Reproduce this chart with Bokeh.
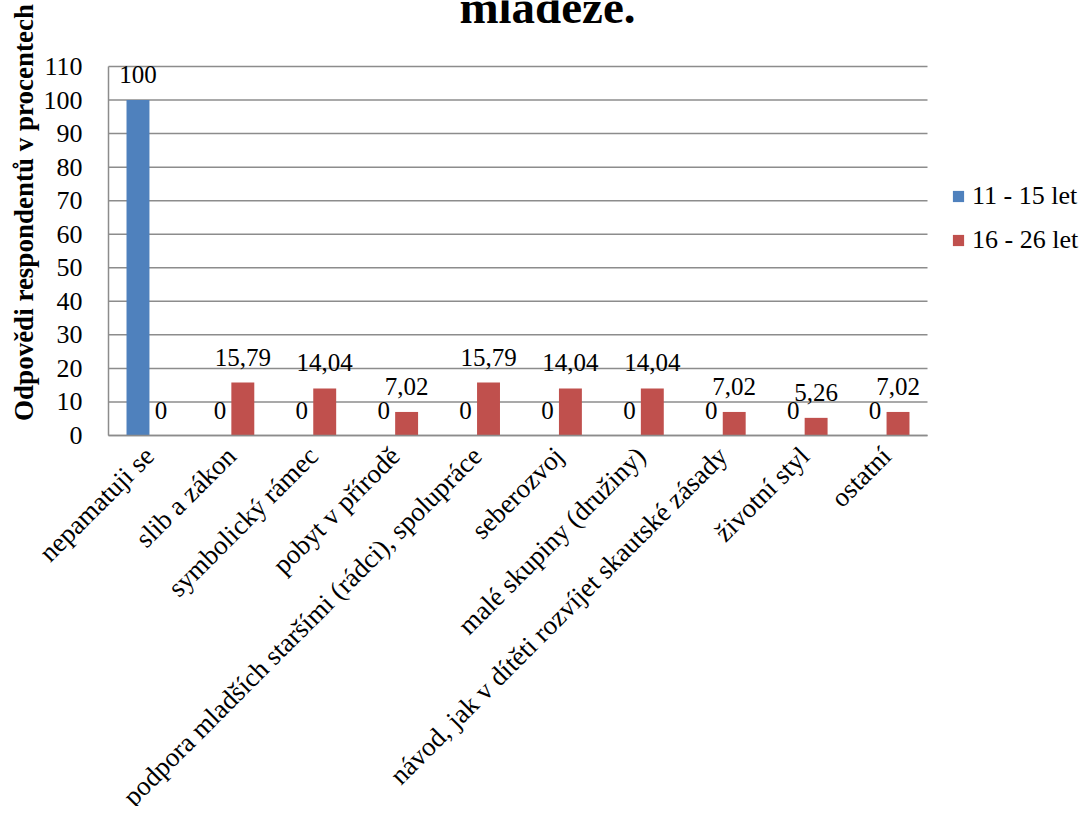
from math import pi
from bokeh.plotting import figure
from bokeh.models import (Range1d, ColumnDataSource, LabelSet, Label, FixedTicker)
from bokeh.embed import file_html
from bokeh.resources import INLINE

categories = [
    "nepamatuji se",
    "slib a zákon",
    "symbolický rámec",
    "pobyt v přírodě",
    "podpora mladších staršími (rádci), spolupráce",
    "seberozvoj",
    "malé skupiny (družiny)",
    "návod, jak v dítěti rozvíjet skautské zásady",
    "životní styl",
    "ostatní",
]
series_names = ["11 - 15 let", "16 - 26 let"]
values_11_15 = [100, 0, 0, 0, 0, 0, 0, 0, 0, 0]
values_16_26 = [0, 15.79, 14.04, 7.02, 15.79, 14.04, 14.04, 7.02, 5.26, 7.02]
y_ticks = list(range(0, 111, 10))
title_text = "mládeže."
y_axis_title = "Odpovědi respondentů v procentech"

FONT = "Liberation Serif"
BLUE = "#4F81BD"
RED = "#C0504D"
GRID = "#8C8C8C"

W, H = 1084, 806
# plot area (pixels on canvas)
FL, FR, FT, FB = 108, 927, 66, 435
n = len(categories)
px_x = (FR - FL) / n
px_y = (FB - FT) / max(y_ticks)


def fmt(v):
    return ("%g" % v).replace(".", ",")


idx = list(range(n))
OFF = 0.14
source = ColumnDataSource(data=dict(
    x1=[i - OFF for i in idx],
    x2=[i + OFF for i in idx],
    v1=values_11_15,
    v2=values_16_26,
    l1=[fmt(v) for v in values_11_15],
    l2=[fmt(v) for v in values_16_26],
))

x_start = -0.5 - FL / px_x
x_end = -0.5 + (W - FL) / px_x
y_start = -(H - FB) / px_y
y_end = FB / px_y

p = figure(width=W, height=H,
           x_range=Range1d(x_start, x_end), y_range=Range1d(y_start, y_end),
           output_backend="svg", toolbar_location=None,
           min_border=0)
p.outline_line_color = None
p.background_fill_color = "white"
p.xgrid.visible = False
p.ygrid.visible = False

# gridlines of the plot area
p.segment(x0=[-0.5] * len(y_ticks), x1=[n - 0.5] * len(y_ticks),
          y0=y_ticks, y1=y_ticks, line_color=GRID, line_width=1.5)

p.vbar(x="x1", top="v1", width=0.28, source=source, fill_color=BLUE,
       line_color=None, legend_label=series_names[0])
p.vbar(x="x2", top="v2", width=0.28, source=source, fill_color=RED,
       line_color=None, legend_label=series_names[1])

for xc, vc, lc in (("x1", "v1", "l1"), ("x2", "v2", "l2")):
    p.add_layout(LabelSet(x=xc, y=vc, text=lc, source=source, text_align="center",
                          text_baseline="alphabetic", y_offset=17,
                          text_font=FONT, text_font_size="25px", text_color="black"))

# y axis
ya = p.yaxis[0]
ya.fixed_location = -0.5
ya.bounds = (0, max(y_ticks))
ya.ticker = FixedTicker(ticks=y_ticks)
ya.major_label_text_font = FONT
ya.major_label_text_font_size = "26px"
ya.major_label_text_color = "black"
ya.major_label_standoff = 26
ya.major_tick_out = 0
ya.major_tick_in = 0
ya.minor_tick_out = 0
ya.minor_tick_in = 0
ya.axis_line_color = GRID
ya.axis_line_width = 1.5

# x axis
xa = p.xaxis[0]
xa.fixed_location = 0
xa.bounds = (-0.5, n - 0.5)
xa.ticker = FixedTicker(ticks=idx)
xa.major_label_overrides = {i: c for i, c in zip(idx, categories)}
xa.major_label_orientation = pi / 4
xa.major_label_text_font = FONT
xa.major_label_text_font_size = "27px"
xa.major_label_text_color = "black"
xa.major_label_standoff = 16
xa.major_tick_out = 0
xa.major_tick_in = 0
xa.minor_tick_out = 0
xa.minor_tick_in = 0
xa.axis_line_color = GRID
xa.axis_line_width = 1.5

# title and y-axis title (frame covers the whole canvas)
p.add_layout(Label(x=547, y=H - 6, x_units="screen", y_units="screen", text=title_text,
                   text_font=FONT, text_font_size="47px", text_font_style="bold",
                   text_align="center", text_baseline="alphabetic", text_color="black"))
p.add_layout(Label(x=23, y=H - 212, x_units="screen", y_units="screen", text=y_axis_title,
                   angle=pi / 2, text_font=FONT, text_font_size="27px",
                   text_font_style="bold", text_align="center",
                   text_baseline="alphabetic", text_color="black"))

lg = p.legend[0]
lg.location = (951, H - 255)
lg.padding = 0
lg.margin = 0
lg.border_line_color = None
lg.background_fill_alpha = 0
lg.spacing = 14
lg.label_height = 30
lg.glyph_height = 14
lg.glyph_width = 14
lg.label_standoff = 7
lg.label_text_font = FONT
lg.label_text_font_size = "26px"
lg.label_text_color = "black"

open("out.html", "w").write(file_html(p, INLINE))
